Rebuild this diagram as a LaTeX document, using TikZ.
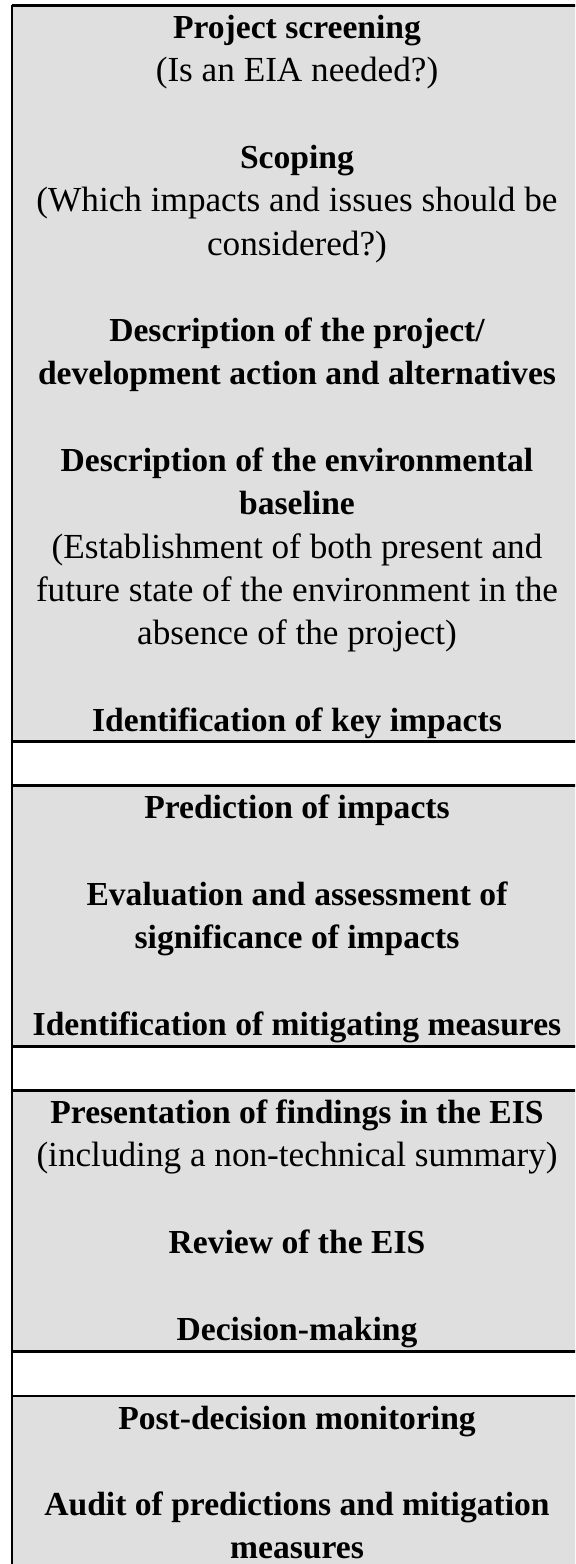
\documentclass[tikz,border=0pt]{standalone}
\usepackage{fontspec}
\setmainfont{Liberation Serif}
\definecolor{cellgray}{RGB}{223,223,223}
\tikzset{
  rule/.style={line width=1.6pt, black},
  txt/.style={anchor=base, inner sep=0pt, font=\fontsize{26.4}{32.5}\selectfont},
  btxt/.style={anchor=base, inner sep=0pt, font=\fontsize{25.2}{32.5}\selectfont\bfseries},
}
\begin{document}
\begin{tikzpicture}[x=0.75pt,y=-0.75pt]
\useasboundingbox (0,0) rectangle (575,1564);
\clip (0,0) rectangle (575,1564);
% blocks
\fill[cellgray] (12,5.5) rectangle (582,741.5);
\fill[white] (12,741.5) rectangle (582,785.5);
\fill[cellgray] (12,785.5) rectangle (582,1046.5);
\fill[white] (12,1046.5) rectangle (582,1090.5);
\fill[cellgray] (12,1090.5) rectangle (582,1351.5);
\fill[white] (12,1351.5) rectangle (582,1396);
\fill[cellgray] (12,1396) rectangle (582,1600);
% rules
\draw[rule] (12,5.5) -- (582,5.5);
\draw[rule] (12,741.5) -- (582,741.5);
\draw[rule] (12,785.5) -- (582,785.5);
\draw[rule] (12,1046.5) -- (582,1046.5);
\draw[rule] (12,1090.5) -- (582,1090.5);
\draw[rule] (12,1351.5) -- (582,1351.5);
\draw[rule] (12,1396) -- (582,1396);
\draw[rule] (12,4.7) -- (12,1600);
\draw[rule] (582,4.7) -- (582,1600);
% block 1
\node[btxt] (ps)  at (297,38.5)  {Project screening};
\node[txt]  (ps2) at (297,81.8)  {(Is an EIA needed?)};
\node[btxt] (sc)  at (297,168.4) {Scoping};
\node[txt]  (sc2) at (297,211.7) {(Which impacts and issues should be};
\node[txt]  (sc3) at (297,255.0) {considered?)};
\node[btxt] (dp)  at (297,341.6) {Description of the project/};
\node[btxt] (dp2) at (297,384.9) {development action and alternatives};
\node[btxt] (de)  at (297,471.5) {Description of the environmental};
\node[btxt] (de2) at (297,514.8) {baseline};
\node[txt]  (de3) at (297,558.1) {(Establishment of both present and};
\node[txt]  (de4) at (297,601.4) {future state of the environment in the};
\node[txt]  (de5) at (297,644.7) {absence of the project)};
\node[btxt] (ik)  at (297,731.3) {Identification of key impacts};
% block 2
\node[btxt] (pi)  at (297,818.5) {Prediction of impacts};
\node[btxt] (ev)  at (297,905.1) {Evaluation and assessment of};
\node[btxt] (ev2) at (297,948.4) {significance of impacts};
\node[btxt] (im)  at (297,1035.0) {Identification of mitigating measures};
% block 3
\node[btxt] (pf)  at (297,1123.5) {Presentation of findings in the EIS};
\node[txt]  (pf2) at (297,1166.8) {(including a non-technical summary)};
\node[btxt] (rv)  at (297,1253.4) {Review of the EIS};
\node[btxt] (dm)  at (297,1340.0) {Decision-making};
% block 4
\node[btxt] (pd)  at (297,1429.0) {Post-decision monitoring};
\node[btxt] (au)  at (297,1515.6) {Audit of predictions and mitigation};
\node[btxt] (au2) at (297,1558.9) {measures};
\end{tikzpicture}
\end{document}
